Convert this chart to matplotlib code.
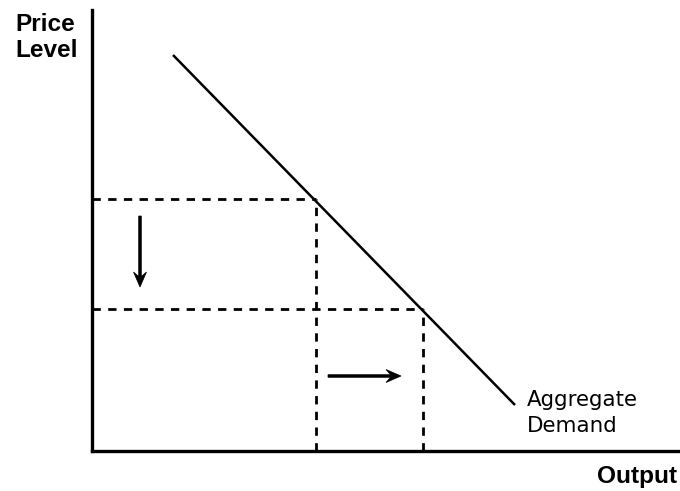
import matplotlib.pyplot as plt

# Aggregate demand curve endpoints (output, price level), arbitrary units
ad_output = [81, 423]
ad_price = [396, 46]

# the two price levels and the matching outputs on the curve
price_levels = [252, 142]
output_levels = [224, 331]

# shift arrows: (start, end)
price_arrow_x = 48
price_arrow_y = [235, 164]
output_arrow_y = 75
output_arrow_x = [236, 309]

fig = plt.figure(figsize=(6.8, 4.91), dpi=100)
ax = fig.add_axes([92 / 680, 40 / 491, 586 / 680, 441 / 491])
ax.set_xlim(0, 586)
ax.set_ylim(0, 441)

for side in ['top', 'right']:
    ax.spines[side].set_visible(False)
for side in ['left', 'bottom']:
    ax.spines[side].set_linewidth(2.4)
ax.set_xticks([])
ax.set_yticks([])

# demand curve
ax.plot(ad_output, ad_price, color='black', lw=1.8, solid_capstyle='butt')

# dashed guides
for p, q in zip(price_levels, output_levels):
    ax.plot([0, q], [p, p], color='black', lw=2.0, dashes=(3.0, 2.65))
    ax.plot([q, q], [0, p], color='black', lw=2.0, dashes=(3.0, 2.65))

# arrows (x and y units are the same size here)
head = dict(width=2.6, head_width=13, head_length=15, overhang=0.3,
            length_includes_head=True, color='black', lw=0.5)
ax.arrow(price_arrow_x, price_arrow_y[0], 0, price_arrow_y[1] - price_arrow_y[0], **head)
ax.arrow(output_arrow_x[0], output_arrow_y, output_arrow_x[1] - output_arrow_x[0], 0, **head)

# labels
fig.text(15 / 680, 1 - 13 / 491, 'Price\nLevel', ha='left', va='top', fontsize=17.6,
         fontweight='bold', family='Liberation Sans', linespacing=1.17)
fig.text(677 / 680, 1 - 483 / 491, 'Output', ha='right', va='baseline', fontsize=17.6,
         fontweight='bold', family='Liberation Sans')
fig.text(527 / 680, 1 - 390 / 491, 'Aggregate\nDemand', ha='left', va='top', fontsize=15.4,
         family='DejaVu Sans', linespacing=1.35)

fig.savefig('out.png', dpi=100)
